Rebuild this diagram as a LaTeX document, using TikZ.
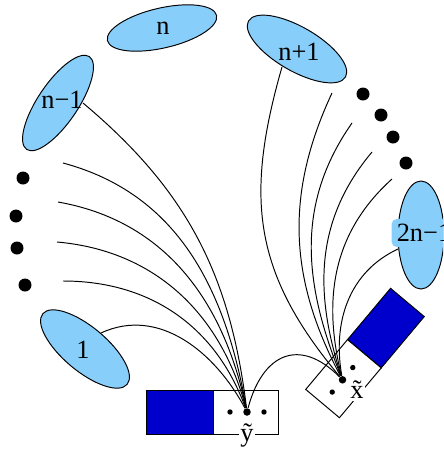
\documentclass[tikz,border=0pt]{standalone}
\usepackage{fontspec}
\setmainfont{Liberation Serif}
\usetikzlibrary{positioning}
\definecolor{setblue}{RGB}{135,206,250}
\definecolor{boxblue}{RGB}{0,0,205}

\begin{document}
\begin{tikzpicture}[x=0.2mm,y=0.2mm,line width=0.55pt,
  every node/.style={font=\fontsize{15}{18}\selectfont},
  set/.style={draw,fill=setblue},
  bigpt/.style={circle,fill,inner sep=0pt,minimum size=1.5mm},
  tlab/.style={fill=white,inner sep=1pt}]
\useasboundingbox (0,0) rectangle (443,-452);
\clip (0,0) rectangle (443,-452);
% the sets
\draw[set,rotate around={13:(162,-28)}] (162,-28) ellipse [x radius=56,y radius=20];
\draw[set,rotate around={56:(58,-103)}] (58,-103) ellipse [x radius=56,y radius=20];
\draw[set,rotate around={-30:(297,-49)}] (297,-49) ellipse [x radius=56,y radius=22];
\draw[set,rotate around={-40:(85,-349)}] (85,-349) ellipse [x radius=55,y radius=22];
\draw[set] (421,-235) ellipse [x radius=23,y radius=54];
\node (n) at (163,-28) {n};
\node (nm) at (62,-100) {n−1};
\node (np) at (299,-52) {n+1};
\node (one) at (83,-350) {1};
\node[fill=setblue,rounded corners=3pt,inner sep=3pt] (tn) at (424,-233) {2n−1};
% the dots in between
\fill (23,-178) circle (6.5) (16,-216) circle (6.5) (17,-248) circle (6.5) (25,-285) circle (6.5);
\fill (363,-94) circle (6.5) (381,-115) circle (6.5) (393,-137) circle (6.5) (406,-163) circle (6.5);
% the two boxes
\begin{scope}[shift={(212,-412)}]
\filldraw[fill=boxblue] (-66,-22) rectangle (1,22);
\filldraw[fill=white] (1,-22) rectangle (66,22);
\fill (18,0) circle (2.7) (52,0) circle (2.7);
\node[bigpt] (yd) at (35,0) {};
\end{scope}
\begin{scope}[shift={(365,-353)},rotate=230]
\filldraw[fill=boxblue] (-66,-22) rectangle (1,22);
\filldraw[fill=white] (1,-22) rectangle (66,22);
\fill (19,0) circle (2.7) (51,0) circle (2.7);
\node[bigpt] (xd) at (35,0) {};
\end{scope}
% free ends
\coordinate (s0) at (83,-103);
\coordinate (a1) at (63,-163);
\coordinate (a2) at (58,-202);
\coordinate (a3) at (57,-242);
\coordinate (a4) at (63,-281);
\coordinate (s1) at (101,-333);
\coordinate (s2) at (282,-67);
\coordinate (b1) at (332,-93);
\coordinate (b2) at (352,-123);
\coordinate (b3) at (372,-152);
\coordinate (b4) at (392,-179);
\coordinate (s3) at (398,-249);
% lines into y
\draw (s0) to[out=-40,in=97] (yd);
\draw (a1) to[out=-15,in=100] (yd);
\draw (a2) to[out=-10,in=102] (yd);
\draw (a3) to[out=-5,in=105] (yd);
\draw (a4) to[out=0,in=110] (yd);
\draw (s1) to[out=25,in=118] (yd);
% lines into x
\draw (s2) to[out=-106,in=130,looseness=1.1] (xd);
\draw (b1) to[out=-115,in=118] (xd);
\draw (b2) to[out=-125,in=112] (xd);
\draw (b3) to[out=-130,in=108] (xd);
\draw (b4) to[out=-138,in=104] (xd);
\draw (s3) to[out=-155,in=100] (xd);
\draw (yd) to[out=75,in=135,looseness=1.5] (xd);
\node[tlab,below=1mm of yd] (yl) {\~y};
\node[tlab] (xl) at (357,-390) {\~x};
\end{tikzpicture}
\end{document}
